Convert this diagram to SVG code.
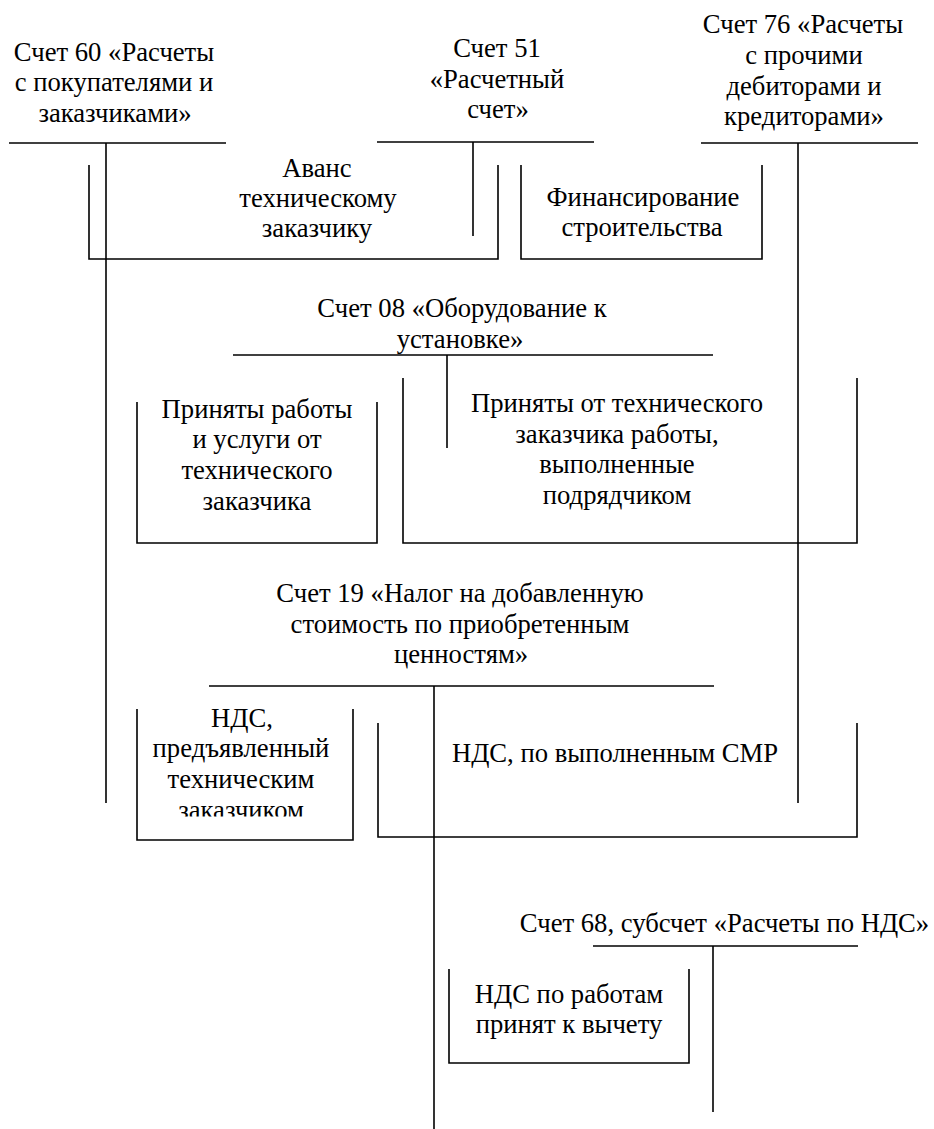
<svg xmlns="http://www.w3.org/2000/svg" width="934" height="1129" viewBox="0 0 934 1129">
<style>
  .ln { stroke: #000; stroke-width: 1.6; fill: none; }
</style>
<defs>
  <clipPath id="clipNds">
    <rect x="130" y="690" width="230" height="126.5"/>
  </clipPath>
</defs>
<rect x="0" y="0" width="934" height="1129" fill="#fff"/>
<g font-family="'Liberation Serif', serif" font-size="26.67" fill="#000" text-anchor="middle">

<g id="acc60">
  <text x="114" y="60.5">Счет 60 «Расчеты</text>
  <text x="114" y="91">с покупателями и</text>
  <text x="115" y="121.5">заказчиками»</text>
  <line class="ln" x1="9" y1="143" x2="226" y2="143"/>
  <line class="ln" x1="106" y1="143" x2="106" y2="803"/>
</g>

<g id="acc51">
  <text x="497" y="57">Счет 51</text>
  <text x="497" y="87.7">«Расчетный</text>
  <text x="498" y="118.4">счет»</text>
  <line class="ln" x1="377" y1="142" x2="594" y2="142"/>
  <line class="ln" x1="473" y1="142" x2="473" y2="236"/>
</g>

<g id="acc76">
  <text x="803" y="33">Счет 76 «Расчеты</text>
  <text x="804" y="63.8">с прочими</text>
  <text x="804" y="94.6">дебиторами и</text>
  <text x="804" y="125.4">кредиторами»</text>
  <line class="ln" x1="701" y1="143" x2="918" y2="143"/>
  <line class="ln" x1="798" y1="143" x2="798" y2="803"/>
</g>

<g id="acc08">
  <text x="462" y="317">Счет 08 «Оборудование к</text>
  <text x="460" y="348">установке»</text>
  <line class="ln" x1="233" y1="355" x2="713" y2="355"/>
  <line class="ln" x1="447" y1="355" x2="447" y2="448"/>
</g>

<g id="acc19">
  <text x="460" y="602">Счет 19 «Налог на добавленную</text>
  <text x="460" y="632.5">стоимость по приобретенным</text>
  <text x="461" y="663">ценностям»</text>
  <line class="ln" x1="209" y1="686" x2="714" y2="686"/>
  <line class="ln" x1="434" y1="686" x2="434" y2="1129"/>
</g>

<g id="acc68">
  <text x="724.5" y="932">Счет 68, субсчет «Расчеты по НДС»</text>
  <line class="ln" x1="593" y1="946" x2="858" y2="946"/>
  <line class="ln" x1="713" y1="946" x2="713" y2="1112"/>
</g>

<g id="connectors">
  <path class="ln" d="M89,165 V259 H498 V165"/>
  <path class="ln" d="M521,165 V259 H762 V165"/>
  <path class="ln" d="M137,402 V543 H377 V402"/>
  <path class="ln" d="M403,378 V543 H857 V378"/>
  <path class="ln" d="M137,709 V840 H353 V709"/>
  <path class="ln" d="M378,723 V837 H857 V723"/>
  <path class="ln" d="M449,969 V1063 H689 V969"/>
</g>

<g id="entry-avans">
  <text x="317" y="176.5">Аванс</text>
  <text x="318" y="206.5">техническому</text>
  <text x="317" y="236.5">заказчику</text>
</g>

<g id="entry-financing">
  <text x="643" y="205.5">Финансирование</text>
  <text x="642" y="236">строительства</text>
</g>

<g id="entry-works">
  <text x="257" y="418">Приняты работы</text>
  <text x="257" y="448">и услуги от</text>
  <text x="257" y="479">технического</text>
  <text x="257" y="510">заказчика</text>
</g>

<g id="entry-contractor">
  <text x="617" y="412">Приняты от технического</text>
  <text x="617" y="442.5">заказчика работы,</text>
  <text x="617" y="473">выполненные</text>
  <text x="617" y="503.5">подрядчиком</text>
</g>

<g id="entry-nds-customer">
  <g clip-path="url(#clipNds)">
    <text x="242" y="727">НДС,</text>
    <text x="241" y="757">предъявленный</text>
    <text x="241" y="787.5">техническим</text>
    <text x="241" y="818.5">заказчиком</text>
  </g>
</g>

<g id="entry-nds-smr">
  <text x="615" y="762">НДС, по выполненным СМР</text>
</g>

<g id="entry-nds-deduct">
  <text x="569" y="1003">НДС по работам</text>
  <text x="569" y="1033">принят к вычету</text>
</g>
</g>
</svg>
